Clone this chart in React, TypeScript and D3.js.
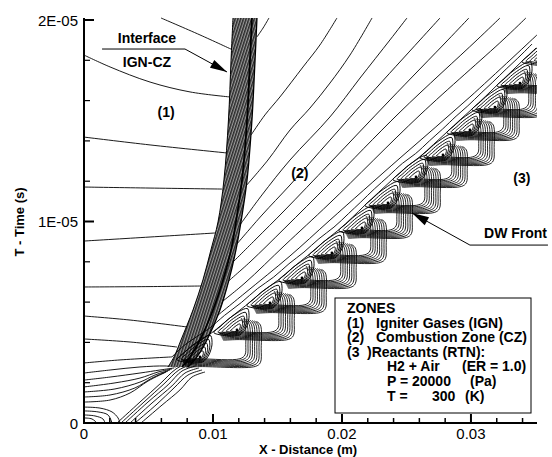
import React, { useEffect, useRef } from "react";
import * as d3 from "d3";

type Pt = [number, number]; // [x in mm, t in microseconds]

const xTicks = [0, 10, 20, 30];
const xTickLabels = ["0", "0.01", "0.02", "0.03"];
const tTicks = [0, 10, 20];
const tTickLabels = ["0", "1E-05", "2E-05"];

// interface band IGN-CZ, read at a few times
const bandT = [20.1, 18.01, 15.04, 12.06, 9.98, 8.59, 7.1, 5.61, 4.12, 3.28, 2.78];
const bandLeft = [11.55, 11.4, 11.2, 10.85, 10.39, 9.84, 9.22, 8.45, 7.52, 6.98, 6.51];
const bandCore = [13.02, 12.87, 12.64, 12.25, 11.78, 11.4, 10.78, 10.0, 8.99, 8.22, 7.6];
const bandRight = [13.41, 13.26, 13.02, 12.64, 12.17, 11.78, 11.24, 10.54, 9.53, 8.76, 8.06];

// zone (1) contours
const zone1Lines: Pt[][] = [
  [[5.97, 20.1], [8.99, 19.26], [11.55, 18.51]],
  [[0, 18.26], [2.02, 17.67], [5.12, 16.92], [8.22, 16.43], [11.32, 16.18]],
  [[0, 14.19], [5.12, 13.8], [11.09, 13.4]],
  [[0, 11.71], [5.12, 11.66], [10.7, 11.61]],
  [[0, 9.03], [5.12, 9.23], [10.16, 9.43]],
  [[0, 6.75], [5.12, 6.77], [9.22, 6.8]],
  [[0, 5.31], [3.57, 5.11], [8.06, 4.76]],
  [[0, 4.17], [3.57, 4.02], [7.21, 3.77]],
  [[0, 2.98], [2.79, 3.13], [6.82, 3.28]],
];

// lower-left fan from the wall
const wallLines: Pt[][] = [
  [[0, 2.48], [2.02, 2.63], [4.34, 2.78], [6.28, 2.83], [7.13, 2.78]],
  [[0, 2.13], [2.02, 2.28], [4.34, 2.48], [5.89, 2.63], [6.98, 2.73]],
  [[0, 1.79], [2.4, 1.99], [4.34, 2.23], [5.74, 2.53], [6.82, 2.68]],
  [[0, 1.54], [2.4, 1.69], [4.34, 2.03], [5.5, 2.38], [6.67, 2.63]],
  [[0, 1.29], [2.02, 1.39], [3.95, 1.74], [5.27, 2.23], [6.51, 2.58]],
  [[0, 1.04], [2.02, 1.14], [3.57, 1.49], [4.96, 2.08], [6.36, 2.53]],
];

// diagonal bundle from the bottom
const diagLines: Pt[][] = [
  [[2.56, 0], [4.34, 1.04], [5.89, 1.94], [7.13, 2.68], [8.22, 3.03]],
  [[2.87, 0], [4.65, 1.04], [6.2, 1.94], [7.36, 2.63], [8.45, 2.93]],
  [[3.18, 0], [4.96, 1.04], [6.51, 1.89], [7.6, 2.58], [8.68, 2.83]],
  [[3.57, 0], [5.27, 0.99], [6.82, 1.84], [7.83, 2.48], [8.91, 2.73]],
  [[3.95, 0], [5.66, 0.94], [6.98, 1.74], [8.06, 2.38], [9.15, 2.63]],
  [[4.42, 0], [6.05, 0.89], [7.44, 1.64], [8.37, 2.28], [9.38, 2.53]],
];

// small loops at the origin
const cornerLoops: Pt[][] = [
  [[0, 0.79], [1.24, 0.74], [2.17, 0.55], [2.64, 0.25], [2.79, 0]],
  [[0, 0.6], [1.09, 0.55], [1.86, 0.4], [2.17, 0]],
  [[0, 0.4], [0.85, 0.35], [1.47, 0.2], [1.63, 0]],
  [[0, 0.25], [0.62, 0.2], [1.01, 0]],
];

// zone (2) contours
const zone2Lines: Pt[][] = [
  [[13.41, 19.16], [13.88, 19.6], [14.34, 20.1]],
  [[12.95, 14.29], [14.03, 15.29], [15.19, 16.18], [16.98, 17.67], [18.29, 18.76], [19.61, 20.1]],
  [[12.48, 11.71], [14.26, 13.05], [15.97, 14.54], [17.52, 15.63], [19.07, 16.87], [20.62, 18.26], [22.33, 20.1]],
  [[12.09, 9.83], [13.8, 11.32], [15.97, 13.05], [19.07, 15.19], [21.4, 17.12], [23.72, 19.01], [25.04, 20.1]],
  [[11.78, 8.83], [13.8, 10.32], [15.97, 11.81], [19.07, 14.04], [22.17, 16.28], [26.05, 19.01], [27.6, 20.1]],
  [[11.32, 7.84], [13.26, 9.08], [15.58, 10.57], [19.07, 12.9], [23.72, 16.03], [28.22, 19.01], [29.84, 20.1]],
  [[10.85, 6.85], [12.87, 7.99], [15.58, 9.68], [19.07, 11.91], [24.5, 15.43], [30.47, 19.01], [32.25, 20.1]],
  [[10.39, 5.86], [12.48, 6.95], [15.58, 8.83], [19.07, 10.92], [26.05, 15.29], [32.48, 19.01], [34.26, 20.1]],
  [[9.92, 5.11], [12.48, 6.45], [15.97, 8.29], [19.07, 10.07], [24.5, 13.15], [29.92, 16.18], [35.12, 19.26]],
];

// detonation cells along the DW front
const cellX = [8.99, 11.86, 14.42, 16.9, 19.22, 21.55, 23.57, 25.74, 27.83, 29.92, 31.86, 33.8, 35.74];
const cellT = [3.28, 4.62, 5.96, 7.2, 8.44, 9.68, 10.92, 12.21, 13.3, 14.54, 15.68, 16.87, 18.06];

// annotations
const interfaceArrow: Pt[] = [[1.4, 18.56], [7.83, 18.56], [11.09, 17.42]];
const dwArrow: Pt[] = [[35.97, 8.83], [29.92, 8.83], [25.43, 10.42]];

const legendLines = [
  { x: 347, parts: [["ZONES", 0]] },
  { x: 347, parts: [["(1)", 0], ["Igniter Gases (IGN)", 29]] },
  { x: 347, parts: [["(2)", 0], ["Combustion Zone (CZ)", 29]] },
  { x: 347, parts: [["(3", 0], [")Reactants (RTN):", 20]] },
  { x: 387, parts: [["H2 + Air", 0], ["(ER = 1.0)", 75]] },
  { x: 387, parts: [["P =", 0], ["20000", 25], ["(Pa)", 83]] },
  { x: 387, parts: [["T =", 0], ["300", 45], ["(K)", 78]] },
];

const FONT = "'Liberation Sans', Arial, sans-serif";

// cell marker shape (pixels, relative to the cell core)
const loopShape: [number, number][] = [
  [-23, 3], [-16, -4], [-7, -12], [5, -20], [11, -21], [12, -12], [9, -2], [3, 5], [-9, 6],
];
const loopScales = [1, 0.82, 0.64, 0.46, 0.28];

export default function App() {
  const svgRef = useRef<SVGSVGElement>(null);

  useEffect(() => {
    const svg = d3.select(svgRef.current);
    svg.selectAll("*").remove();

    const x = d3.scaleLinear().domain([0, 35.12]).range([84, 537]);
    const y = d3.scaleLinear().domain([0, 20]).range([423, 20]);

    const defs = svg.append("defs");
    defs
      .append("clipPath")
      .attr("id", "plotclip")
      .append("rect")
      .attr("x", 84)
      .attr("y", 16)
      .attr("width", 453)
      .attr("height", 407);

    // hatch for the dense interface band
    const pat = defs
      .append("pattern")
      .attr("id", "bandhatch")
      .attr("patternUnits", "userSpaceOnUse")
      .attr("width", 2.6)
      .attr("height", 10)
      .attr("patternTransform", "rotate(18)");
    pat.append("rect").attr("width", 2.6).attr("height", 10).attr("fill", "#2a2a2a");
    pat.append("rect").attr("x", 1.5).attr("width", 0.9).attr("height", 10).attr("fill", "#b8b8b8");

    const plot = svg.append("g").attr("clip-path", "url(#plotclip)");

    const line = d3
      .line<Pt>()
      .x((d) => x(d[0]))
      .y((d) => y(d[1]))
      .curve(d3.curveCatmullRom.alpha(0.5));

    const drawLines = (sets: Pt[][]) =>
      plot
        .append("g")
        .selectAll("path")
        .data(sets)
        .enter()
        .append("path")
        .attr("d", (d) => line(d))
        .attr("fill", "none")
        .attr("stroke", "#000")
        .attr("stroke-width", 0.9);

    drawLines(zone1Lines);
    drawLines(wallLines);
    drawLines(diagLines);
    drawLines(cornerLoops);
    drawLines(zone2Lines);

    // interface band
    const band = bandT.map((t, i) => ({ t, l: bandLeft[i], c: bandCore[i], r: bandRight[i] }));
    plot
      .append("path")
      .datum(band)
      .attr(
        "d",
        d3
          .area<any>()
          .y((d) => y(d.t))
          .x0((d) => x(d.l))
          .x1((d) => x(d.r))
          .curve(d3.curveCatmullRom)
      )
      .attr("fill", "url(#bandhatch)");
    const bandLine = (key: "l" | "c" | "r", w: number) =>
      plot
        .append("path")
        .datum(band.map((d) => [d[key], d.t] as Pt))
        .attr("d", line)
        .attr("fill", "none")
        .attr("stroke", "#000")
        .attr("stroke-width", w);
    bandLine("l", 1);
    bandLine("r", 1.3);
    bandLine("c", 1.8);

    // DW front envelope
    const cells = cellX.map((cx, i) => ({ px: x(cx), py: y(cellT[i]) }));
    const pxLine = d3.line<[number, number]>().curve(d3.curveBasis);
    [
      [[-24, 3], [-9, -11]],
      [[-28, 0], [-13, -15]],
    ].forEach((offs) => {
      const pts: [number, number][] = [];
      cells.forEach((c) => offs.forEach(([dx, dy]) => pts.push([c.px + dx, c.py + dy])));
      plot
        .append("path")
        .attr("d", pxLine(pts))
        .attr("fill", "none")
        .attr("stroke", "#000")
        .attr("stroke-width", 0.9);
    });

    // nested loops of each cell
    const loopLine = d3.line<[number, number]>().curve(d3.curveCardinalClosed.tension(0.2));
    const cellG = plot
      .append("g")
      .selectAll("g")
      .data(cells)
      .enter()
      .append("g")
      .attr("transform", (d) => `translate(${d.px},${d.py})`);
    loopScales.forEach((s) => {
      cellG
        .append("path")
        .attr("d", loopLine(loopShape.map(([a, b]) => [a * s, b * s] as [number, number])))
        .attr("fill", "none")
        .attr("stroke", "#000")
        .attr("stroke-width", 0.95);
    });
    cellG.append("circle").attr("r", 1.4).attr("fill", "#000");

    // step + riser bundles between consecutive cells
    const bundleLine = d3.line<[number, number]>().curve(d3.curveCatmullRom.alpha(0.5));
    const steps = plot.append("g");
    for (let k = 0; k < cells.length - 1; k++) {
      const lo = cells[k];
      const up = cells[k + 1];
      d3.range(8).forEach((i) => {
        const xi = up.px + 8 + 2.2 * i;
        const yi = lo.py + 2 + 1.1 * i;
        const pts: [number, number][] = [
          [lo.px - 18 + 0.6 * i, yi + 0.6],
          [lo.px, yi],
          [xi - 5, yi - 0.2],
          [xi, yi - 4],
          [xi + 0.8, (yi + up.py) / 2],
          [xi, up.py - 5],
          [xi - 4, up.py - 12 + 0.5 * i],
        ];
        steps
          .append("path")
          .attr("d", bundleLine(pts))
          .attr("fill", "none")
          .attr("stroke", "#000")
          .attr("stroke-width", 0.85);
      });
    }

    // axes
    const axisG = svg.append("g").attr("stroke", "#000");
    axisG.append("line").attr("x1", x(0)).attr("x2", x(0)).attr("y1", 18).attr("y2", y(0) + 1).attr("stroke-width", 2);
    axisG.append("line").attr("x1", x(0) - 1).attr("x2", 537).attr("y1", y(0)).attr("y2", y(0)).attr("stroke-width", 2);

    d3.range(0, 35.1, 2).forEach((v) => {
      const major = xTicks.includes(v);
      axisG
        .append("line")
        .attr("x1", x(v))
        .attr("x2", x(v))
        .attr("y1", y(0))
        .attr("y2", y(0) - (major ? 9 : 5))
        .attr("stroke-width", major ? 2 : 1.5);
    });
    d3.range(0, 20.1, 2).forEach((v) => {
      const major = tTicks.includes(v);
      axisG
        .append("line")
        .attr("x1", x(0))
        .attr("x2", x(0) + (major ? 10 : 6))
        .attr("y1", y(v))
        .attr("y2", y(v))
        .attr("stroke-width", major ? 2 : 1.2);
    });

    const text = (tx: number, ty: number, s: string, size: number, bold: boolean, anchor = "start") =>
      svg
        .append("text")
        .attr("x", tx)
        .attr("y", ty)
        .attr("font-family", FONT)
        .attr("font-size", size)
        .attr("font-weight", bold ? "bold" : "normal")
        .attr("text-anchor", anchor)
        .attr("fill", "#000")
        .style("white-space", "pre")
        .text(s);

    xTicks.forEach((v, i) => text(x(v), 439, xTickLabels[i], 15, false, "middle"));
    tTicks.forEach((v, i) => text(78, y(v) + 5.5, tTickLabels[i], 15, false, "end"));

    text(308, 454, "X - Distance (m)", 13, true, "middle");
    svg
      .append("text")
      .attr("transform", `translate(24,222) rotate(-90)`)
      .attr("font-family", FONT)
      .attr("font-size", 13)
      .attr("font-weight", "bold")
      .attr("text-anchor", "middle")
      .text("T - Time (s)");

    // zone labels
    text(x(6.36), y(15.43) + 5, "(1)", 14, true, "middle");
    text(x(16.74), y(12.41) + 5, "(2)", 14, true, "middle");
    text(x(33.95), y(12.16) + 5, "(3)", 14, true, "middle");

    // annotations
    const arrow = (pts: Pt[]) => {
      const px = pts.map((p) => [x(p[0]), y(p[1])] as [number, number]);
      svg
        .append("path")
        .attr("d", d3.line()(px))
        .attr("fill", "none")
        .attr("stroke", "#000")
        .attr("stroke-width", 1);
      const tip = px[px.length - 1];
      const from = px[px.length - 2];
      const ang = Math.atan2(tip[1] - from[1], tip[0] - from[0]);
      const len = 17;
      const half = 4.5;
      const bx = tip[0] - len * Math.cos(ang);
      const by = tip[1] - len * Math.sin(ang);
      const nx = -Math.sin(ang) * half;
      const ny = Math.cos(ang) * half;
      svg
        .append("path")
        .attr("d", `M${tip[0]},${tip[1]}L${bx + nx},${by + ny}L${bx - nx},${by - ny}Z`)
        .attr("fill", "#000");
    };
    arrow(interfaceArrow);
    arrow(dwArrow);
    text(x(4.88), y(19.11) + 5, "Interface", 14, true, "middle");
    text(x(4.88), y(17.92) + 5, "IGN-CZ", 14, true, "middle");
    text(547, 238, "DW Front", 14, true, "end");

    // legend box
    svg
      .append("rect")
      .attr("x", 335)
      .attr("y", 298)
      .attr("width", 196)
      .attr("height", 115)
      .attr("fill", "#fff")
      .attr("stroke", "#000")
      .attr("stroke-width", 1);
    legendLines.forEach((ln, i) => {
      ln.parts.forEach(([s, dx]) => text(ln.x + (dx as number), 313 + i * 14.6, s as string, 14, true));
    });
  }, []);

  return (
    <div style={{ position: "absolute", left: 0, top: 0 }}>
      <svg ref={svgRef} width={552} height={457} style={{ display: "block", background: "#fff" }}></svg>
    </div>
  );
}
